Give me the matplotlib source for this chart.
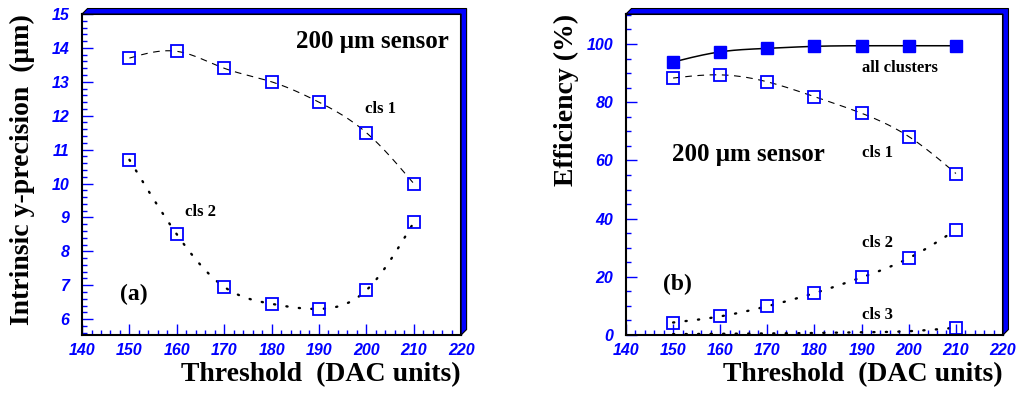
import numpy as np
import matplotlib
matplotlib.use('Agg')
import matplotlib.pyplot as plt
from matplotlib.patches import Polygon
from matplotlib.ticker import MultipleLocator

# thresholds (DAC units)
threshold = [150, 160, 170, 180, 190, 200, 210]

# (a) intrinsic y-precision (um)
prec_cls1 = [13.7, 13.9, 13.4, 13.0, 12.4, 11.5, 10.0]
prec_cls2 = [10.7, 8.5, 6.95, 6.45, 6.3, 6.85, 8.85]

# (b) efficiency (%)
eff_all = [93.8, 97.3, 98.5, 99.2, 99.4, 99.4, 99.4]
eff_cls1 = [88.3, 89.4, 87.0, 81.9, 76.2, 68.2, 55.5]
eff_cls2 = [4.3, 6.4, 9.9, 14.4, 19.8, 26.4, 36.1]
eff_cls3 = [0.3, 0.4, 0.5, 0.7, 0.9, 1.3, 2.5]

SERIF = 'Liberation Serif'
SANS = 'Liberation Sans'
BLUE = '#0000ff'


def spline(x, y, n=300):
    # natural cubic spline through the points (like ROOT's "C" option)
    x = np.asarray(x, float)
    y = np.asarray(y, float)
    h = np.diff(x)
    m = len(x)
    A = np.zeros((m, m))
    b = np.zeros(m)
    A[0, 0] = A[-1, -1] = 1
    for i in range(1, m - 1):
        A[i, i - 1] = h[i - 1]
        A[i, i] = 2 * (h[i - 1] + h[i])
        A[i, i + 1] = h[i]
        b[i] = 3 * ((y[i + 1] - y[i]) / h[i] - (y[i] - y[i - 1]) / h[i - 1])
    c = np.linalg.solve(A, b)
    bc = (y[1:] - y[:-1]) / h - h * (2 * c[:-1] + c[1:]) / 3
    d = (c[1:] - c[:-1]) / (3 * h)
    xs = np.linspace(x[0], x[-1], n)
    idx = np.clip(np.searchsorted(x, xs) - 1, 0, m - 2)
    t = xs - x[idx]
    return xs, y[idx] + bc[idx] * t + c[idx] * t**2 + d[idx] * t**3


DASHED = dict(color='black', lw=0.8, linestyle=(0, (6, 5)))
DOTTED = dict(color='black', lw=1.7, linestyle=(0, (0.5, 4.8)), dash_capstyle='round')
OPEN = dict(linestyle='none', marker='s', ms=9, mfc='none', mec=BLUE, mew=1.3)


def style_axes(ax, ymajor, yminor):
    ax.set_xlim(140, 220)
    ax.xaxis.set_major_locator(MultipleLocator(10))
    ax.xaxis.set_minor_locator(MultipleLocator(2))
    ax.yaxis.set_major_locator(MultipleLocator(ymajor))
    ax.yaxis.set_minor_locator(MultipleLocator(yminor))
    ax.tick_params(which='both', direction='in', color=BLUE, top=False, right=False)
    ax.tick_params(which='major', length=8, width=1)
    ax.tick_params(which='minor', length=3.5, width=1)
    ax.tick_params(axis='y', pad=9)
    ax.tick_params(axis='x', pad=6)
    for lab in ax.get_xticklabels() + ax.get_yticklabels():
        lab.set_fontfamily(SANS)
        lab.set_fontweight('bold')
        lab.set_fontstyle('italic')
        lab.set_fontsize(11.5)
        lab.set_color(BLUE)
    for s in ax.spines.values():
        s.set_color('black')
        s.set_linewidth(1.5)
    # blue 3D shadow on top and right edge
    dx, dy = 5.5 / 379, 5.5 / 321
    pts = [(0, 1), (dx, 1 + dy), (1 + dx, 1 + dy), (1 + dx, dy), (1, 0), (1, 1)]
    ax.add_patch(Polygon(pts, closed=True, transform=ax.transAxes, clip_on=False,
                         facecolor=BLUE, edgecolor='black', lw=0.8, zorder=5))
    ax.set_xlabel('Threshold  (DAC units)', fontfamily=SERIF, fontweight='bold',
                  fontsize=20, loc='right')
    ax.xaxis.set_label_coords(1.0, -0.085)


plt.rcParams['font.family'] = [SERIF, 'DejaVu Serif']
fig = plt.figure(figsize=(10.19, 3.94), dpi=100)
axa = fig.add_axes([0.0805, 0.1497, 0.372, 0.8147])
axb = fig.add_axes([0.6143, 0.1497, 0.370, 0.8147])

# ---- (a)
axa.plot(*spline(threshold, prec_cls1), **DASHED)
axa.plot(*spline(threshold, prec_cls2), **DOTTED)
axa.plot(threshold, prec_cls1, **OPEN)
axa.plot(threshold, prec_cls2, **OPEN)
axa.set_ylim(5.53, 15)
style_axes(axa, 1, 0.2)
axa.set_ylabel('Intrinsic y-precision  (\u03bcm)', fontfamily=SERIF, fontweight='bold',
               fontsize=20, loc='top')
axa.yaxis.set_label_coords(-0.125, 1.0)
tk = dict(fontfamily=SERIF, fontweight='bold', va='center')
axa.text(217.3, 14.2, '200 \u03bcm sensor', ha='right', fontsize=18, **tk)
axa.text(199.7, 12.2, 'cls 1', ha='left', fontsize=12, **tk)
axa.text(161.7, 9.17, 'cls 2', ha='left', fontsize=12, **tk)
axa.text(148, 6.72, '(a)', ha='left', fontsize=17, **tk)

# ---- (b)
axb.plot(*spline(threshold, eff_all), color='black', lw=1.1)
axb.plot(*spline(threshold, eff_cls1), **DASHED)
axb.plot(*spline(threshold, eff_cls2), **DOTTED)
axb.plot(*spline(threshold, eff_cls3), **DOTTED)
axb.plot(threshold, eff_all, linestyle='none', marker='s', ms=9, color=BLUE, mec=BLUE)
axb.plot(threshold, eff_cls1, **OPEN)
axb.plot(threshold, eff_cls2, **OPEN)
# only the last cls 3 point shows above the axis
axb.plot(threshold[-1:], eff_cls3[-1:], **OPEN)
axb.set_ylim(0, 110.3)
style_axes(axb, 20, 5)
axb.set_ylabel('Efficiency (%)', fontfamily=SERIF, fontweight='bold',
               fontsize=20, loc='top')
axb.yaxis.set_label_coords(-0.125, 1.0)
axb.text(149.8, 62, '200 \u03bcm sensor', ha='left', fontsize=18, **tk)
axb.text(190.1, 91.8, 'all clusters', ha='left', fontsize=12, **tk)
axb.text(190.1, 62.7, 'cls 1', ha='left', fontsize=12, **tk)
axb.text(190.1, 31.5, 'cls 2', ha='left', fontsize=12, **tk)
axb.text(190.1, 6.8, 'cls 3', ha='left', fontsize=12, **tk)
axb.text(147.9, 17.5, '(b)', ha='left', fontsize=17, **tk)

fig.savefig('out.png', dpi=100)
